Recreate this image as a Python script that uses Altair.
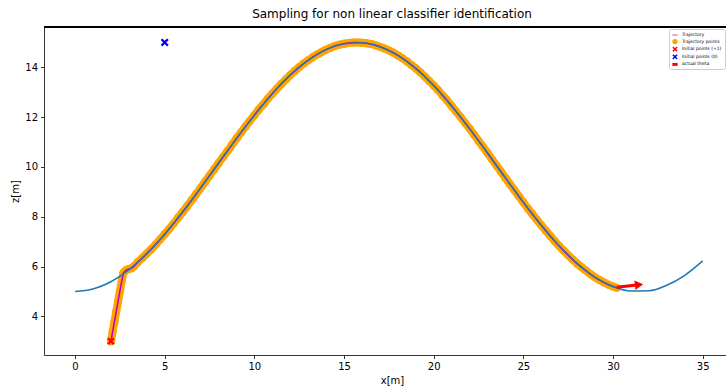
import altair as alt
import pandas as pd

# reference curve (blue)
ref_x = [0, 1, 2, 3, 4, 5, 6, 7, 8, 9, 10, 11, 12, 13, 14, 15, 16, 17, 18, 19,
         20, 21, 22, 23, 24, 25, 26, 27, 28, 29, 30, 31, 32, 33, 34, 35]
ref_z = [5.00, 5.10, 5.39, 5.87, 6.52, 7.30, 8.19, 9.15, 10.15, 11.14, 12.08, 12.94,
         13.69, 14.28, 14.71, 14.95, 14.99, 14.83, 14.48, 13.96, 13.27, 12.45, 11.54,
         10.56, 9.56, 8.58, 7.66, 6.83, 6.12, 5.57, 5.20, 5.02, 5.03, 5.25, 5.65, 6.23]

# sampled trajectory (magenta line + orange points)
traj_x = [2.00, 2.10, 2.20, 2.30, 2.40, 2.50, 2.60, 2.70, 2.85, 3.00, 3.15, 3.30,
          3.50, 3.75, 4.00, 4.25, 4.50, 4.75, 5.00, 5.25, 5.50, 5.75, 6.00, 6.25,
          6.50, 6.75, 7.00, 7.25, 7.50, 7.75, 8.00, 8.25, 8.50, 8.75, 9.00, 9.25,
          9.50, 9.75, 10.00, 10.25, 10.50, 10.75, 11.00, 11.25, 11.50, 11.75, 12.00,
          12.25, 12.50, 12.75, 13.00, 13.25, 13.50, 13.75, 14.00, 14.25, 14.50, 14.75,
          15.00, 15.25, 15.50, 15.75, 16.00, 16.25, 16.50, 16.75, 17.00, 17.25, 17.50,
          17.75, 18.00, 18.25, 18.50, 18.75, 19.00, 19.25, 19.50, 19.75, 20.00, 20.25,
          20.50, 20.75, 21.00, 21.25, 21.50, 21.75, 22.00, 22.25, 22.50, 22.75, 23.00,
          23.25, 23.50, 23.75, 24.00, 24.25, 24.50, 24.75, 25.00, 25.25, 25.50, 25.75,
          26.00, 26.25, 26.50, 26.75, 27.00, 27.25, 27.50, 27.75, 28.00, 28.25, 28.50,
          28.75, 29.00, 29.25, 29.50, 29.75, 30.00, 30.20]
traj_z = [3.00, 3.40, 3.80, 4.20, 4.60, 5.00, 5.40, 5.75, 5.86, 5.90, 5.93, 6.02,
          6.18, 6.34, 6.52, 6.70, 6.89, 7.09, 7.30, 7.51, 7.73, 7.96, 8.19, 8.42,
          8.66, 8.91, 9.15, 9.40, 9.65, 9.90, 10.15, 10.40, 10.64, 10.89, 11.14, 11.38,
          11.62, 11.85, 12.08, 12.31, 12.52, 12.74, 12.94, 13.14, 13.33, 13.51, 13.69,
          13.85, 14.01, 14.15, 14.28, 14.41, 14.52, 14.62, 14.71, 14.79, 14.86, 14.91,
          14.95, 14.98, 15.00, 15.00, 14.99, 14.97, 14.94, 14.89, 14.83, 14.76, 14.68,
          14.59, 14.48, 14.37, 14.24, 14.10, 13.96, 13.80, 13.63, 13.45, 13.27, 13.08,
          12.87, 12.67, 12.45, 12.23, 12.00, 11.77, 11.54, 11.30, 11.05, 10.81, 10.56,
          10.31, 10.06, 9.81, 9.56, 9.31, 9.07, 8.82, 8.58, 8.34, 8.11, 7.88,
          7.66, 7.44, 7.23, 7.02, 6.83, 6.64, 6.46, 6.28, 6.12, 5.97, 5.83,
          5.69, 5.57, 5.46, 5.36, 5.27, 5.20, 5.15]

# initial points
init_pos_x = [2.0]
init_pos_z = [3.0]
init_zero_x = [5.0]
init_zero_z = [15.0]

# actual theta arrow
arrow_x = [30.20]
arrow_z = [5.17]
arrow_x2 = [31.45]
arrow_z2 = [5.27]

labels = ["Trajectory", "Trajectory points", "Initial points (+1)",
          "Initial points (0)", "actual theta"]
colors = ["#bf00bf", "#ffa500", "#ff0000", "#0000ff", "#ff0000"]
XPATH = "M-1,-0.6L-0.6,-1L0,-0.4L0.6,-1L1,-0.6L0.4,0L1,0.6L0.6,1L0,0.4L-0.6,1L-1,0.6L-0.4,0Z"
shapes = ["M-1,-0.14H1V0.14H-1Z", "circle", XPATH, XPATH, "M-1,-0.55H1V0.55H-1Z"]

W, H = 682, 328
xs = alt.Scale(domain=[-1.73, 36.3], nice=False, zero=False)
ys = alt.Scale(domain=[2.45, 15.62], nice=False, zero=False)
xax = alt.Axis(values=[0, 5, 10, 15, 20, 25, 30, 35], grid=False, title="x[m]", titleX=348)
yax = alt.Axis(values=[4, 6, 8, 10, 12, 14], grid=False, title="z[m]")

legend = alt.Legend(orient="none", legendX=625, legendY=2, title=None,
                    labelFontSize=4.5, symbolSize=28, rowPadding=1.6, padding=3,
                    strokeColor="#cccccc", fillColor="white", cornerRadius=2,
                    symbolStrokeWidth=0, labelOffset=4, labelColor="#000")
cscale = alt.Scale(domain=labels, range=colors)
sscale = alt.Scale(domain=labels, range=shapes)

ref_df = pd.DataFrame({"x": ref_x, "z": ref_z})
traj_df = pd.DataFrame({"x": traj_x, "z": traj_z, "label": "Trajectory points",
                        "order": list(range(len(traj_x)))})
pos_df = pd.DataFrame({"x": init_pos_x, "z": init_pos_z, "label": "Initial points (+1)"})
zero_df = pd.DataFrame({"x": init_zero_x, "z": init_zero_z, "label": "Initial points (0)"})
arr_df = pd.DataFrame({"x": arrow_x, "z": arrow_z, "x2": arrow_x2, "z2": arrow_z2})

X = alt.X("x:Q", scale=xs, axis=xax)
Y = alt.Y("z:Q", scale=ys, axis=yax)

def pts(df, size):
    return alt.Chart(df).mark_point(filled=True, opacity=1, strokeWidth=0, size=size).encode(
        x=X, y=Y,
        color=alt.Color("label:N", scale=cscale, legend=legend),
        shape=alt.Shape("label:N", scale=sscale, legend=legend),
    )

traj_band = alt.Chart(traj_df).mark_line(color="#ffa500", strokeWidth=8,
                                          strokeJoin="round", strokeCap="round").encode(
    x=X, y=Y, order="order:Q")
traj_pts = pts(traj_df, 64)
traj_line = alt.Chart(traj_df).mark_line(color="#bf00bf", strokeWidth=1.5).encode(
    x=X, y=Y, order="order:Q")
ref_line = alt.Chart(ref_df).mark_line(color="#1f77b4", strokeWidth=1.5,
                                        interpolate="monotone").encode(x=X, y=Y)
pos_pts = pts(pos_df, 55)
zero_pts = pts(zero_df, 64)
shaft = alt.Chart(arr_df).mark_rule(color="#ff0000", strokeWidth=3).encode(
    x=X, y=Y, x2="x2:Q", y2="z2:Q")
head = alt.Chart(arr_df).mark_point(shape="triangle-right", filled=True, color="#ff0000",
                                    opacity=1, size=90, angle=353).encode(
    x=alt.X("x2:Q", scale=xs), y=alt.Y("z2:Q", scale=ys))
top = alt.Chart(ref_df).mark_rule(color="#000", strokeWidth=0.8).encode(
    x=alt.value(0), x2=alt.value(W), y=alt.value(0))

chart = alt.layer(traj_band, traj_pts, traj_line, ref_line, pos_pts, zero_pts, shaft, head, top).properties(
    width=W, height=H,
    title=alt.TitleParams("Sampling for non linear classifier identification",
                          fontSize=12, fontWeight="normal", font="DejaVu Sans",
                          anchor="middle", dx=7, offset=6, color="#000"),
    autosize=alt.AutoSizeParams(type="none"),
    padding={"left": 44, "top": 27, "right": 0, "bottom": 35},
).configure_view(stroke=None).configure_axis(
    labelFont="DejaVu Sans", labelFontSize=10, labelColor="#000",
    titleFont="DejaVu Sans", titleFontSize=10, titleFontWeight="normal", titleColor="#000",
    domainColor="#000", domainWidth=0.8, tickColor="#000", tickWidth=0.8, tickSize=3.5,
    labelPadding=3,
).configure_legend(labelFont="DejaVu Sans")

chart.save("out.html", embed_options={"renderer": "svg", "actions": False})
